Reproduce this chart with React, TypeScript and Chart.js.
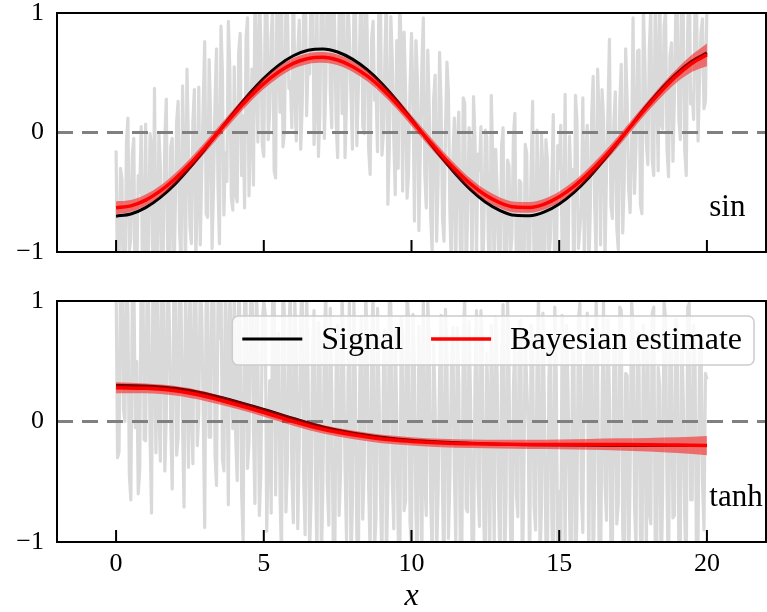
import React, { useEffect, useRef } from 'react';
import { Chart, registerables } from 'chart.js';

Chart.register(...registerables);

// ---------- data ----------
const X_TICKS = [0, 5, 10, 15, 20];
const Y_TICKS = [-1, 0, 1];
const X_MIN = -2;
const X_MAX = 22;
const Y_MIN = -1;
const Y_MAX = 1;
const X_TITLE = 'x';
const LEGEND_LABELS = ['Signal', 'Bayesian estimate'];
const PANEL_LABELS = ['sin', 'tanh'];

const NOISE_X_START = 0;
const NOISE_X_STEP = 0.05;

const SIN_NOISE = [
  -0.15, -1.30, -1.12, -0.30, -0.39, -1.49, -1.44, -0.09, 0.12, -0.99, -0.88, -0.18, -0.05, -1.57, -1.21, -0.36, -0.50, 0.05, -1.52, -0.84,
  0.07, -1.12, -0.96, -0.01, -0.12, -1.29, 0.37, -0.97, -1.18, 0.00, -0.29, -1.33, -0.97, -0.06, 0.28, -1.09, -1.38, -0.12, -0.05, -1.34,
  -0.71, 0.09, 0.26, -0.84, -1.08, 0.39, -0.25, -1.19, 0.53, -0.11, -0.79, -0.93, 0.09, 0.36, -1.05, -0.52, 0.38, -0.94, -0.32, 0.25,
  0.76, -0.68, -0.71, 0.61, 0.14, -0.97, -0.43, 0.27, 0.70, -0.45, -0.93, 0.89, 0.50, -0.69, -0.17, -0.41, 0.93, 0.53, -0.54, -0.65,
  0.55, -0.52, -0.58, 0.67, 0.83, -0.36, 0.14, -0.63, 0.79, 0.96, -0.53, 0.04, 0.53, -0.44, 1.13, 0.59, -0.08, 1.27, 0.73, -0.11,
  -0.20, 1.07, 1.36, -0.06, 0.18, 0.81, 1.04, -0.32, -0.38, 1.30, 0.68, 0.17, 1.26, -0.12, 0.01, 1.10, 1.03, 0.37, 0.43, 0.04,
  1.42, 0.35, -0.07, 0.66, 0.94, -0.14, 0.22, 1.08, 1.63, 0.14, 0.59, 0.49, 1.24, 1.50, -0.10, 0.25, 1.05, -0.20, 0.18, 1.25,
  1.32, -0.05, 0.40, 1.25, 1.54, 0.34, 0.04, 1.39, 0.88, 0.08, -0.21, 1.02, 1.14, 0.16, 1.35, -0.21, 0.24, 1.14, 0.78, 0.32,
  -0.14, 1.06, 1.18, -0.11, 0.36, 0.77, 1.48, 0.05, -0.01, 1.38, 0.84, -0.14, -0.35, 0.79, 0.93, 0.27, 0.34, -0.16, 1.23, 1.12,
  -0.19, 0.00, 0.63, 1.17, -0.60, -0.12, 0.97, 0.61, -0.05, -0.52, 0.77, -0.30, 1.12, 0.73, -0.49, 0.84, 0.35, -0.55, -0.34, 0.38,
  0.83, 0.30, -0.74, 0.77, 0.45, -0.82, -0.13, 0.55, 0.96, -0.34, -0.63, 0.69, 0.22, -0.70, -1.01, 0.28, 0.48, -0.91, -0.42, 0.67,
  0.25, -0.72, -0.91, 0.01, 0.59, 0.33, -0.67, -1.16, -0.20, 0.12, -1.13, -0.07, 0.17, -0.94, -1.35, 0.29, 0.25, -1.24, -0.65, 0.04,
  -0.13, -1.19, 0.30, -0.06, -1.04, -0.18, -0.32, 0.05, -1.41, -0.77, 0.02, -0.04, -0.90, -1.36, 0.31, -0.22, -1.28, -0.14, -0.49, -1.00,
  -1.10, -0.11, 0.04, -1.27, -1.55, -0.23, -0.28, -1.04, -0.87, -0.04, 0.16, -1.20, -1.30, -0.40, -0.42, -1.55, -1.45, -0.10, -0.18, -1.15,
  -1.02, -0.30, 0.26, -1.24, -1.24, 0.02, -0.50, -1.58, -0.02, -0.32, -1.49, -0.06, -0.23, -1.05, -0.89, -0.39, 0.15, -1.32, -1.31, -0.11,
  -0.30, 0.06, -1.06, -0.97, 0.32, -1.25, -1.16, -0.03, -0.42, -0.31, -1.42, 0.31, 0.10, -0.97, -0.80, -0.64, 0.29, -1.07, -0.20, 0.06,
  -1.18, -0.67, 0.15, 0.47, -0.60, -1.06, 0.53, 0.13, -0.94, 0.36, 0.12, -1.07, -0.35, 0.17, 0.78, -0.61, -0.72, 0.08, 0.34, -0.80,
  -0.98, 0.24, 0.57, -0.84, -0.42, 0.70, 0.26, -0.47, -0.67, -0.14, 0.96, -0.51, -0.11, 0.68, 0.69, -0.60, -0.68, 1.04, 0.58, -0.09,
  -0.27, 0.70, 1.04, -0.23, -0.36, 1.11, 0.47, -0.32, 1.27, 0.07, 0.03, 0.89, 1.00, -0.14, -0.37, 0.64, 0.75, -0.24, 0.30, 1.09,
  1.20, 0.11, -0.06, 1.13, 0.99, -0.15, -0.36, 0.87, 1.43, 0.24, 0.32, 0.11, 1.13, 1.07, -0.07, 0.44, 0.84, 0.95, 0.20, 0.26,
  1.07,
];

const TANH_NOISE = [
  1.15, -0.30, -0.25, 1.20, 1.40, 0.10, 0.00, 1.40, 0.92, -0.45, -0.65, 1.10, 1.25, -0.05, 0.50, -0.60, -0.40, 1.30, 1.55, -0.15,
  -0.16, 1.14, 1.04, -0.11, -0.76, 1.34, 0.69, -0.26, 1.44, 0.09, -0.33, 1.24, 1.17, -0.41, 0.04, 1.49, 0.84, -0.01, -0.56, 0.99,
  1.47, -0.28, -0.13, 1.27, 0.97, -0.03, -0.71, 1.12, 0.57, -0.38, 1.30, 0.10, -0.35, 1.35, 1.15, -0.20, 0.07, 1.20, 0.90, 0.05,
  -0.88, 1.12, 1.02, -0.13, -0.13, 1.37, 1.52, -0.28, -0.53, 1.02, 0.69, 1.19, -0.31, -0.41, 1.19, 0.59, -0.69, 1.14, 0.54, -0.06,
  1.14, -0.14, -0.49, 1.21, 0.76, -0.59, -0.99, 1.06, 1.01, -0.39, -0.18, 0.97, 1.32, -0.08, -0.68, 1.22, 0.57, -0.78, -0.43, 0.82,
  1.01, 0.89, -0.91, -0.21, 0.34, -0.76, 1.19, 1.14, -0.61, 0.49, 0.73, -0.60, -1.15, 1.20, 0.85, -0.75, -0.35, 0.75, 1.10, -0.45,
  -0.84, 1.01, 0.56, -0.89, -0.19, 0.81, 1.26, -0.49, -0.94, 1.11, 0.35, -1.08, -0.65, 0.57, 0.92, -0.43, -1.13, 0.82, 0.69, -1.18,
  -0.54, 0.69, 1.09, -0.51, -0.86, 0.94, 0.24, -1.01, -1.31, 0.49, 0.80, -0.78, -0.43, 1.07, 0.54, -0.38, -0.98, 0.32, 1.00, -1.18,
  -0.69, 0.99, 0.34, -0.96, -1.26, 0.39, 0.87, -0.81, -0.36, 1.09, 0.64, -0.56, -1.09, 0.59, 1.09, -1.06, -0.79, 0.94, 0.24, -0.61,
  -1.19, 0.46, 0.76, -1.14, -0.56, 1.01, 0.98, -0.49, -0.89, 0.76, 0.06, -0.94, -1.42, 0.86, 0.68, -0.74, -0.66, 1.06, 0.86, -0.84,
  -1.04, 0.89, 0.44, -0.76, -1.26, 0.79, 0.24, -1.26, 1.02, -0.46, -0.78, 0.99, 0.69, -0.66, -1.11, 0.64, 0.12, -1.11, -0.61, 0.39,
  0.88, -0.57, -1.37, 0.93, 0.53, -0.97, -0.47, 0.43, 0.78, -0.42, -1.02, 0.78, 0.33, -1.02, -1.22, 0.58, 1.05, -0.72, -0.75, 0.83,
  0.17, -1.09, -1.11, 0.37, 0.92, -0.49, -0.87, 0.92, 0.60, -0.84, -1.37, 0.57, 0.04, -1.14, 0.80, 0.02, -0.99, 0.87, 0.37, -0.69,
  -1.19, 0.47, 0.97, -1.24, -0.64, 1.02, 0.47, -0.89, -1.41, 0.27, 0.70, -0.59, -0.79, 0.82, 0.84, -1.34, -0.54, 0.72, 0.30, -0.04,
  -1.32, 0.80, 0.60, -0.70, -0.90, 0.50, 1.05, -1.15, -0.70, 0.90, 0.10, -1.00, -1.18, 0.35, 0.72, -0.80, -1.35, 0.95, 0.40, -1.20,
  -0.58, -1.30, 0.88, 0.20, -1.08, 0.80, 0.25, -0.75, -1.45, 0.65, 0.55, -1.40, -0.75, 0.85, 0.98, -0.60, -0.92, 0.45, 0.00, 0.90,
  -1.22, 0.40, 0.75, -1.35, -0.50, 1.00, 0.50, -1.10, -1.28, 0.15, 1.00, -0.50, -0.82, 0.85, 0.20, -1.05, -1.12, 0.60, 0.65, -0.85,
  -0.68, 0.95, 0.92, -0.90, -1.38, 0.40, 0.38, -1.25, -0.45, 1.00, 0.80, -0.70, -1.05, 0.75, 0.48, -0.95, -1.25, 0.80, 0.12, -1.10,
  0.70, -0.75, -0.85, 0.90, 0.95, -1.00, -1.15, 0.45, 0.30, -1.35, -0.60, 1.00, 0.85, -0.55, -1.42, 0.70, 0.55, -0.80, -0.78, 0.85,
  0.78, -1.15, -1.02, 0.70, 0.18, -0.80, -1.30, 0.95, 0.98, -0.65, -0.65, 0.80, 0.45, -1.30, -0.98, 0.55, 0.68, -0.50, -0.90, 0.40,
  0.35,
];

const SIN_X = [
  0, 0.5, 1, 1.5, 2, 2.5, 3, 3.5, 4, 4.5, 5, 5.5, 6, 6.5, 7, 7.5, 8, 8.5, 9, 9.5,
  10, 10.5, 11, 11.5, 12, 12.5, 13, 13.5, 14, 14.5, 15, 15.5, 16, 16.5, 17, 17.5,
  18, 18.5, 19, 19.5, 20,
];
const SIN_SIGNAL = [
  -0.700, -0.682, -0.629, -0.543, -0.430, -0.293, -0.142, 0.016, 0.173, 0.322,
  0.454, 0.562, 0.642, 0.688, 0.699, 0.674, 0.614, 0.525, 0.408, 0.268,
  0.111, -0.048, -0.203, -0.349, -0.478, -0.581, -0.653, -0.693, -0.697, -0.665,
  -0.598, -0.501, -0.378, -0.234, -0.080, 0.079, 0.234, 0.377, 0.500, 0.598,
  0.666,
];
const SIN_EST = [
  -0.630, -0.614, -0.566, -0.489, -0.387, -0.264, -0.128, 0.014, 0.156, 0.290,
  0.409, 0.506, 0.578, 0.619, 0.629, 0.607, 0.553, 0.473, 0.367, 0.241,
  0.100, -0.043, -0.183, -0.314, -0.430, -0.523, -0.588, -0.624, -0.627, -0.599,
  -0.538, -0.451, -0.340, -0.213, -0.074, 0.074, 0.220, 0.358, 0.480, 0.580,
  0.650,
];
const SIN_LO = [
  -0.685, -0.664, -0.613, -0.534, -0.432, -0.309, -0.173, -0.031, 0.111, 0.245,
  0.364, 0.461, 0.533, 0.574, 0.584, 0.562, 0.508, 0.428, 0.322, 0.196,
  0.055, -0.088, -0.228, -0.359, -0.475, -0.568, -0.633, -0.669, -0.672, -0.644,
  -0.583, -0.496, -0.385, -0.258, -0.119, 0.029, 0.175, 0.308, 0.422, 0.508,
  0.555,
];
const SIN_HI = [
  -0.575, -0.564, -0.519, -0.444, -0.342, -0.219, -0.083, 0.059, 0.201, 0.335,
  0.454, 0.551, 0.623, 0.664, 0.674, 0.652, 0.598, 0.518, 0.412, 0.286,
  0.145, 0.002, -0.138, -0.269, -0.385, -0.478, -0.543, -0.579, -0.582, -0.554,
  -0.493, -0.406, -0.295, -0.168, -0.029, 0.119, 0.265, 0.408, 0.538, 0.652,
  0.745,
];

const TANH_X = [0, 1, 2, 3, 4, 5, 6, 7, 8, 9, 10, 11, 12, 13, 14, 15, 16, 17, 18, 19, 20];
const TANH_SIGNAL = [
  0.300, 0.295, 0.275, 0.232, 0.170, 0.100, 0.025, -0.045, -0.095, -0.130, -0.155,
  -0.170, -0.180, -0.188, -0.193, -0.196, -0.198, -0.199, -0.200, -0.200, -0.200,
];
const TANH_EST = [
  0.280, 0.275, 0.255, 0.210, 0.145, 0.075, 0.000, -0.065, -0.110, -0.145, -0.165,
  -0.178, -0.185, -0.188, -0.190, -0.190, -0.190, -0.190, -0.192, -0.196, -0.200,
];
const TANH_LO = [
  0.235, 0.235, 0.215, 0.170, 0.110, 0.040, -0.035, -0.100, -0.145, -0.180, -0.200,
  -0.213, -0.220, -0.224, -0.228, -0.230, -0.235, -0.240, -0.248, -0.261, -0.280,
];
const TANH_HI = [
  0.325, 0.315, 0.295, 0.250, 0.180, 0.110, 0.035, -0.030, -0.075, -0.110, -0.130,
  -0.143, -0.150, -0.152, -0.152, -0.150, -0.145, -0.140, -0.136, -0.131, -0.120,
];

const ZERO_X = [X_MIN, X_MAX];
const ZERO_Y = [0, 0];

// ---------- styling ----------
const FONT = '"Liberation Serif", "Times New Roman", serif';
const W = 767;

const pts = (xs: number[], ys: number[]) => ys.map((y, i) => ({ x: xs[i], y }));
const noisePts = (ys: number[]) => ys.map((y, i) => ({ x: NOISE_X_START + i * NOISE_X_STEP, y }));
const fmt = (v: number) => (v < 0 ? '\u2212' + Math.abs(v) : String(v));

const tickPlugin = {
  id: 'inwardTicks',
  afterDatasetDraw(chart: any, args: any) {
    const ds = chart.data.datasets[args.index];
    if (!ds || ds.role !== 'noise') return;
    const { ctx, chartArea: a, scales } = chart;
    ctx.save();
    ctx.strokeStyle = '#000';
    ctx.lineWidth = 2;
    ctx.beginPath();
    for (const v of X_TICKS) {
      const px = scales.x.getPixelForValue(v);
      ctx.moveTo(px, a.bottom);
      ctx.lineTo(px, a.bottom - 12);
    }
    for (const v of Y_TICKS) {
      const py = scales.y.getPixelForValue(v);
      ctx.moveTo(a.left, py);
      ctx.lineTo(a.left + 12, py);
    }
    ctx.stroke();
    ctx.restore();
  },
};

const framePlugin = {
  id: 'frameBox',
  afterDatasetsDraw(chart: any, _args: any, opts: any) {
    const { ctx, chartArea: a } = chart;
    ctx.save();
    ctx.strokeStyle = '#000';
    ctx.lineWidth = 2;
    ctx.strokeRect(a.left, a.top, a.right - a.left, a.bottom - a.top);
    if (opts && opts.text) {
      ctx.font = `31px ${FONT}`;
      ctx.fillStyle = '#000';
      ctx.textAlign = 'left';
      ctx.textBaseline = 'alphabetic';
      ctx.fillText(opts.text, a.left + 0.92 * (a.right - a.left), a.bottom - 0.15 * (a.bottom - a.top));
    }
    ctx.restore();
  },
};

const legendPlugin = {
  id: 'boxLegend',
  afterDatasetsDraw(chart: any, _args: any, opts: any) {
    if (!opts || !opts.show) return;
    const { ctx, chartArea: a } = chart;
    const items = LEGEND_LABELS.map((l) => chart.data.datasets.find((d: any) => d.label === l)).filter(Boolean);
    ctx.save();
    ctx.font = `32px ${FONT}`;
    const handle = 60, gapText = 19, gapEntry = 28, padL = 10, padR = 12, boxH = 49;
    const widths = items.map((d: any) => ctx.measureText(d.label).width);
    let total = padL + padR + gapEntry * (items.length - 1);
    items.forEach((_d: any, i: number) => { total += handle + gapText + widths[i]; });
    const right = a.right - 12;
    const left = right - total;
    const top = a.top + 15;
    ctx.beginPath();
    if (ctx.roundRect) ctx.roundRect(left, top, total, boxH, 6);
    else ctx.rect(left, top, total, boxH);
    ctx.fillStyle = 'rgba(255,255,255,0.8)';
    ctx.fill();
    ctx.lineWidth = 1.5;
    ctx.strokeStyle = '#cccccc';
    ctx.stroke();
    let x = left + padL;
    items.forEach((d: any, i: number) => {
      ctx.beginPath();
      ctx.moveTo(x, top + 23);
      ctx.lineTo(x + handle, top + 23);
      ctx.strokeStyle = d.borderColor;
      ctx.lineWidth = d.borderWidth;
      ctx.stroke();
      x += handle + gapText;
      ctx.fillStyle = '#000';
      ctx.textAlign = 'left';
      ctx.textBaseline = 'alphabetic';
      ctx.fillText(d.label, x, top + 33);
      x += widths[i] + gapEntry;
    });
    ctx.restore();
  },
};

type Panel = {
  label: string;
  noise: number[];
  xs: number[];
  signal: number[];
  est: number[];
  lo: number[];
  hi: number[];
  showX: boolean;
  legend: boolean;
  height: number;
  padTop: number;
  padBottom: number;
  xAxisHeight: number;
};

const PANELS: Panel[] = [
  { label: PANEL_LABELS[0], noise: SIN_NOISE, xs: SIN_X, signal: SIN_SIGNAL, est: SIN_EST, lo: SIN_LO, hi: SIN_HI,
    showX: false, legend: false, height: 270, padTop: 13, padBottom: 18, xAxisHeight: 0 },
  { label: PANEL_LABELS[1], noise: TANH_NOISE, xs: TANH_X, signal: TANH_SIGNAL, est: TANH_EST, lo: TANH_LO, hi: TANH_HI,
    showX: true, legend: true, height: 342, padTop: 31, padBottom: 0, xAxisHeight: 70 },
];

function makeConfig(p: Panel): any {
  const common = { pointRadius: 0, clip: 0, fill: false };
  return {
    type: 'line',
    data: {
      datasets: [
        { ...common, label: LEGEND_LABELS[1], data: pts(p.xs, p.est), borderColor: '#ff0000', borderWidth: 3.5,
          cubicInterpolationMode: 'monotone', order: 0 },
        { ...common, data: pts(p.xs, p.hi), borderColor: 'rgba(0,0,0,0)', borderWidth: 0,
          backgroundColor: 'rgba(255,0,0,0.5)', fill: '+1', cubicInterpolationMode: 'monotone', order: 1 },
        { ...common, data: pts(p.xs, p.lo), borderColor: 'rgba(0,0,0,0)', borderWidth: 0,
          cubicInterpolationMode: 'monotone', order: 1 },
        { ...common, label: LEGEND_LABELS[0], data: pts(p.xs, p.signal), borderColor: '#000000', borderWidth: 3,
          cubicInterpolationMode: 'monotone', order: 2 },
        { ...common, data: pts(ZERO_X, ZERO_Y), borderColor: '#808080', borderWidth: 3, borderDash: [16, 9],
          borderCapStyle: 'butt', order: 3 },
        { ...common, role: 'noise', data: noisePts(p.noise), borderColor: '#d9d9d9', borderWidth: 3.2,
          borderJoinStyle: 'round', tension: 0, order: 4 },
      ],
    },
    options: {
      animation: false,
      responsive: false,
      devicePixelRatio: 1,
      events: [],
      layout: { padding: { left: 0, right: 1, top: p.padTop, bottom: p.padBottom } },
      plugins: {
        legend: { display: false },
        tooltip: { enabled: false },
        frameBox: { text: p.label },
        boxLegend: { show: p.legend },
      },
      scales: {
        x: {
          type: 'linear',
          min: X_MIN,
          max: X_MAX,
          display: p.showX,
          afterBuildTicks: (s: any) => { s.ticks = X_TICKS.map((v) => ({ value: v })); },
          afterFit: (s: any) => { s.height = p.xAxisHeight; s.paddingLeft = 0; s.paddingRight = 0; },
          grid: { display: false, drawTicks: false },
          border: { display: false },
          ticks: { color: '#000', font: { family: FONT, size: 26 }, padding: 7, maxRotation: 0, autoSkip: false },
          title: { display: true, text: X_TITLE, color: '#000',
            font: { family: FONT, size: 32, style: 'italic' }, padding: { top: 0, bottom: -4 } },
        },
        y: {
          type: 'linear',
          min: Y_MIN,
          max: Y_MAX,
          afterBuildTicks: (s: any) => { s.ticks = Y_TICKS.map((v) => ({ value: v })); },
          afterFit: (s: any) => { s.width = 57; s.paddingTop = 0; s.paddingBottom = 0; },
          grid: { display: false, drawTicks: false },
          border: { display: false },
          ticks: { color: '#000', font: { family: FONT, size: 26 }, padding: 13, callback: (v: any) => fmt(Number(v)) },
        },
      },
    },
    plugins: [tickPlugin, framePlugin, legendPlugin],
  };
}

function PanelChart({ panel, top }: { panel: Panel; top: number }) {
  const ref = useRef<HTMLCanvasElement>(null);
  useEffect(() => {
    if (!ref.current) return;
    const chart = new Chart(ref.current, makeConfig(panel));
    return () => chart.destroy();
  }, [panel]);
  return (
    <canvas
      ref={ref}
      width={W}
      height={panel.height}
      style={{ position: 'absolute', left: 0, top, width: W, height: panel.height, display: 'block' }}
    />
  );
}

export default function App() {
  return (
    <div style={{ position: 'fixed', left: 0, top: 0, width: W, height: 612, background: '#fff', overflow: 'hidden' }}>
      <PanelChart panel={PANELS[0]} top={0} />
      <PanelChart panel={PANELS[1]} top={270} />
    </div>
  );
}
